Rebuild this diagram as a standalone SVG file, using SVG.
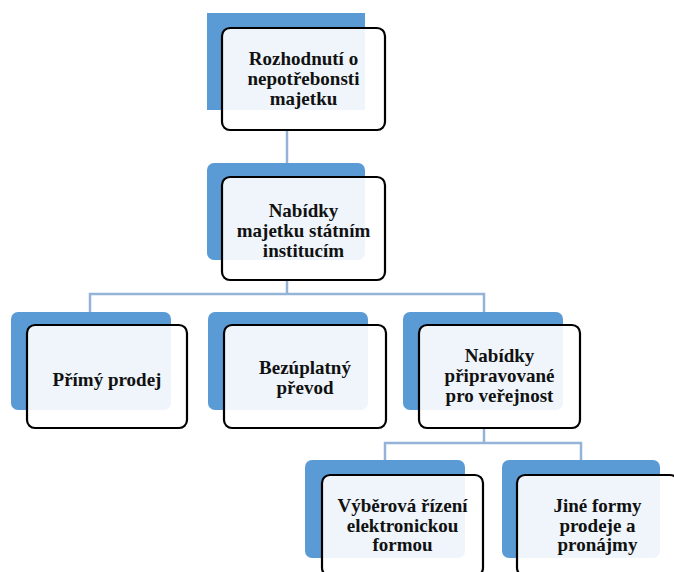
<svg xmlns="http://www.w3.org/2000/svg" width="674" height="572" viewBox="0 0 674 572">
<style>
.bg{fill:#5B9BD5}
.box{fill:#FFFFFF;fill-opacity:0.9;stroke:#000;stroke-width:2.2}
.t{font-family:"Liberation Serif","Times New Roman",serif;font-weight:bold;font-size:19px;fill:#111;text-anchor:middle}
.c{fill:none;stroke:#95B3D7;stroke-width:2.5}
</style>
<rect width="674" height="572" fill="#fff"/>
<g id="connectors">
<path class="c" d="M287 130V163"/>
<path class="c" d="M287 280V294M90 312V294H484V312"/>
<path class="c" d="M484 428V443M385 460V443H581V460"/>
</g>
<g id="n1">
<rect class="bg" x="207" y="13" width="158" height="97"/>
<rect class="box" x="222" y="28" width="163" height="102" rx="8"/>
<text class="t" x="303.5" y="65">Rozhodnutí o</text>
<text class="t" x="303.5" y="85">nepotřebonsti</text>
<text class="t" x="303.5" y="105">majetku</text>
</g>
<g id="n2">
<rect class="bg" x="207" y="163" width="158" height="97" rx="7"/>
<rect class="box" x="222" y="177" width="163" height="103" rx="8"/>
<text class="t" x="303.5" y="217">Nabídky</text>
<text class="t" x="303.5" y="237">majetku státním</text>
<text class="t" x="303.5" y="257">institucím</text>
</g>
<g id="n3">
<rect class="bg" x="11" y="312" width="160" height="98" rx="7"/>
<rect class="box" x="27" y="325" width="160" height="103" rx="8"/>
<text class="t" x="107" y="386">Přímý prodej</text>
</g>
<g id="n4">
<rect class="bg" x="208" y="312" width="160" height="98" rx="7"/>
<rect class="box" x="224" y="325" width="162" height="103" rx="8"/>
<text class="t" x="305" y="374">Bezúplatný</text>
<text class="t" x="305" y="394">převod</text>
</g>
<g id="n5">
<rect class="bg" x="403" y="312" width="160" height="98" rx="7"/>
<rect class="box" x="419" y="325" width="161" height="103" rx="8"/>
<text class="t" x="499.5" y="362">Nabídky</text>
<text class="t" x="499.5" y="382">připravované</text>
<text class="t" x="499.5" y="402">pro veřejnost</text>
</g>
<g id="n6">
<rect class="bg" x="305" y="460" width="160" height="98" rx="7"/>
<rect class="box" x="322" y="475" width="161" height="101" rx="8"/>
<text class="t" x="402.5" y="512">Výběrová řízení</text>
<text class="t" x="402.5" y="532">elektronickou</text>
<text class="t" x="402.5" y="551">formou</text>
</g>
<g id="n7">
<rect class="bg" x="502" y="460" width="158" height="98" rx="7"/>
<rect class="box" x="517" y="475" width="161" height="101" rx="8"/>
<text class="t" x="597.5" y="512">Jiné formy</text>
<text class="t" x="597.5" y="532">prodeje a</text>
<text class="t" x="597.5" y="551">pronájmy</text>
</g>
</svg>
